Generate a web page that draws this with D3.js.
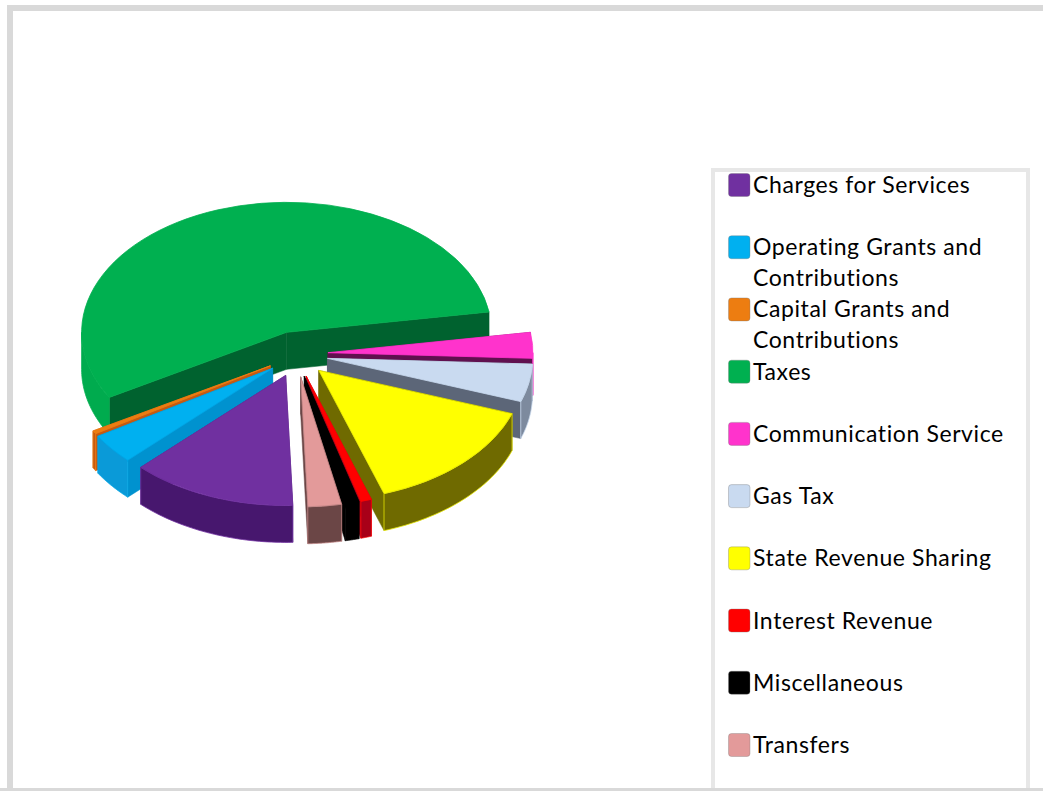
<!DOCTYPE html>
<html>
<head>
<meta charset="utf-8">
<style>
    html, body { margin: 0; padding: 0; background: #fff; overflow: hidden; }
    text { font-family: Lato, "Open Sans", sans-serif; fill: #000; letter-spacing: 0.6px; }
</style>
<script src="https://cdn.jsdelivr.net/npm/d3@7"></script>
</head>
<body>
<svg id="chart" width="1043" height="791"></svg>
<script>
const categories = ['Charges for Services', 'Operating Grants and Contributions', 'Capital Grants and Contributions', 'Taxes',
    'Communication Service', 'Gas Tax', 'State Revenue Sharing', 'Interest Revenue', 'Miscellaneous', 'Transfers'];
// share of total in percent
const shares = [13.05, 3.75, 0.4, 55.85, 3.2, 4.7, 14.45, 0.85, 1.1, 2.65];
const legendLines = [['Charges for Services'], ['Operating Grants and', 'Contributions'], ['Capital Grants and', 'Contributions'], ['Taxes'],
    ['Communication Service'], ['Gas Tax'], ['State Revenue Sharing'], ['Interest Revenue'], ['Miscellaneous'], ['Transfers']];
const legendRows = [0, 2, 4, 6, 8, 10, 12, 14, 16, 18];

const topColors = ['#7030a0', '#00b0f0', '#ed7d11', '#00b050', '#ff33cc', '#c9daf0', '#ffff00', '#ff0000', '#000000', '#e39a9a'];
const outerColors = ['#47176e', '#0a9ad8', '#c55a11', '#00ab4e', '#b0208c', '#7d8a9e', '#6f6a00', '#a80018', '#000000', '#6b4646'];
const innerColors = ['#47176e', '#0092cf', '#c55a11', '#00622f', '#60104f', '#5c6678', '#6f6a00', '#a80018', '#000000', '#6b4646'];
const edgeColors = ['#7030a0', '#00a6e6', '#ed7d11', '#00ae4f', '#ff33cc', '#c9daf0', '#e6e600', '#ff0000', '#000000', '#c08484'];

let svg = d3.select('#chart');

// frame and legend box
svg.append('rect').attr('x', 10).attr('y', 8).attr('width', 1060).attr('height', 783)
    .attr('fill', '#fff').attr('stroke', '#d9d9d9').attr('stroke-width', 6);
svg.append('rect').attr('x', 713).attr('y', 170).attr('width', 315).attr('height', 640)
    .attr('fill', '#fff').attr('stroke', '#e7e7e7').attr('stroke-width', 4);
svg.append('rect').attr('x', 0).attr('y', 788).attr('width', 1043).attr('height', 3).attr('fill', '#d9d9d9');
svg.append('rect').attr('x', 0).attr('y', 0).attr('width', 1043).attr('height', 5).attr('fill', '#fff');

// pie geometry
const cx = 297, cy = 354;
const rx = 205, ry = 130;
const explodeX = 31, explodeY = 23;
const depth = 37;

let pie = d3.pie().sort(null).value(d => d)
    .startAngle(178 * Math.PI / 180)
    .endAngle((178 + 360) * Math.PI / 180);

let slices = pie(shares).map(function (s, i) {
    let mid = (s.startAngle + s.endAngle) / 2;
    return {
        index: i,
        startAngle: s.startAngle,
        endAngle: s.endAngle,
        mid: mid,
        ax: cx + explodeX * Math.sin(mid),
        ay: cy - explodeY * Math.cos(mid)
    };
});

function rim(s, a, drop) {
    return [s.ax + rx * Math.sin(a), s.ay - ry * Math.cos(a) + drop];
}

let line = d3.line();
let arc = d3.arc().innerRadius(0).outerRadius(rx);

let pieLayer = svg.append('g');

// back to front so nearer slices cover the walls behind them
slices.slice().sort((a, b) => d3.descending(Math.cos(a.mid), Math.cos(b.mid))).forEach(function (s) {
    let g = pieLayer.append('g');
    let top = [s.ax, s.ay];
    let bottom = [s.ax, s.ay + depth];

    [s.startAngle, s.endAngle].forEach(function (a) {
        g.append('path')
            .attr('d', line([top, rim(s, a, 0), rim(s, a, depth), bottom]) + 'Z')
            .attr('fill', innerColors[s.index])
            .attr('stroke', innerColors[s.index])
            .attr('stroke-width', 0.5);
    });

    // outer wall, only the part of the rim that faces the viewer
    let twoPi = 2 * Math.PI;
    [0, twoPi].forEach(function (turn) {
        let from = Math.max(s.startAngle, Math.PI / 2 + turn);
        let to = Math.min(s.endAngle, 3 * Math.PI / 2 + turn);
        if (from >= to) {
            return;
        }
        let angles = d3.range(0, 41).map(k => from + (to - from) * k / 40);
        let upper = angles.map(a => rim(s, a, 0));
        let lower = angles.slice().reverse().map(a => rim(s, a, depth));
        g.append('path')
            .attr('d', line(upper.concat(lower)) + 'Z')
            .attr('fill', outerColors[s.index])
            .attr('stroke', edgeColors[s.index])
            .attr('stroke-width', 0.8);
    });

    g.append('path')
        .attr('d', arc({startAngle: s.startAngle, endAngle: s.endAngle}))
        .attr('transform', 'translate(' + s.ax + ',' + s.ay + ') scale(1,' + (ry / rx) + ')')
        .attr('fill', topColors[s.index])
        .attr('stroke', edgeColors[s.index])
        .attr('stroke-width', 0.8)
        .attr('vector-effect', 'non-scaling-stroke');
});

// legend
const rowY = d3.scaleLinear().domain([0, 18]).range([185, 745]);
let legend = svg.append('g');
categories.forEach(function (name, i) {
    let y = rowY(legendRows[i]);
    legend.append('rect')
        .attr('x', 728.5).attr('y', y - 11.5)
        .attr('width', 21.5).attr('height', 23).attr('rx', 3)
        .attr('fill', topColors[i])
        .attr('stroke', 'rgba(120,120,120,0.35)').attr('stroke-width', 1);
    legendLines[i].forEach(function (text, k) {
        legend.append('text')
            .attr('x', 753)
            .attr('y', y + k * 31 + 8)
            .attr('font-size', 23)
            .text(text);
    });
});
</script>
</body>
</html>
